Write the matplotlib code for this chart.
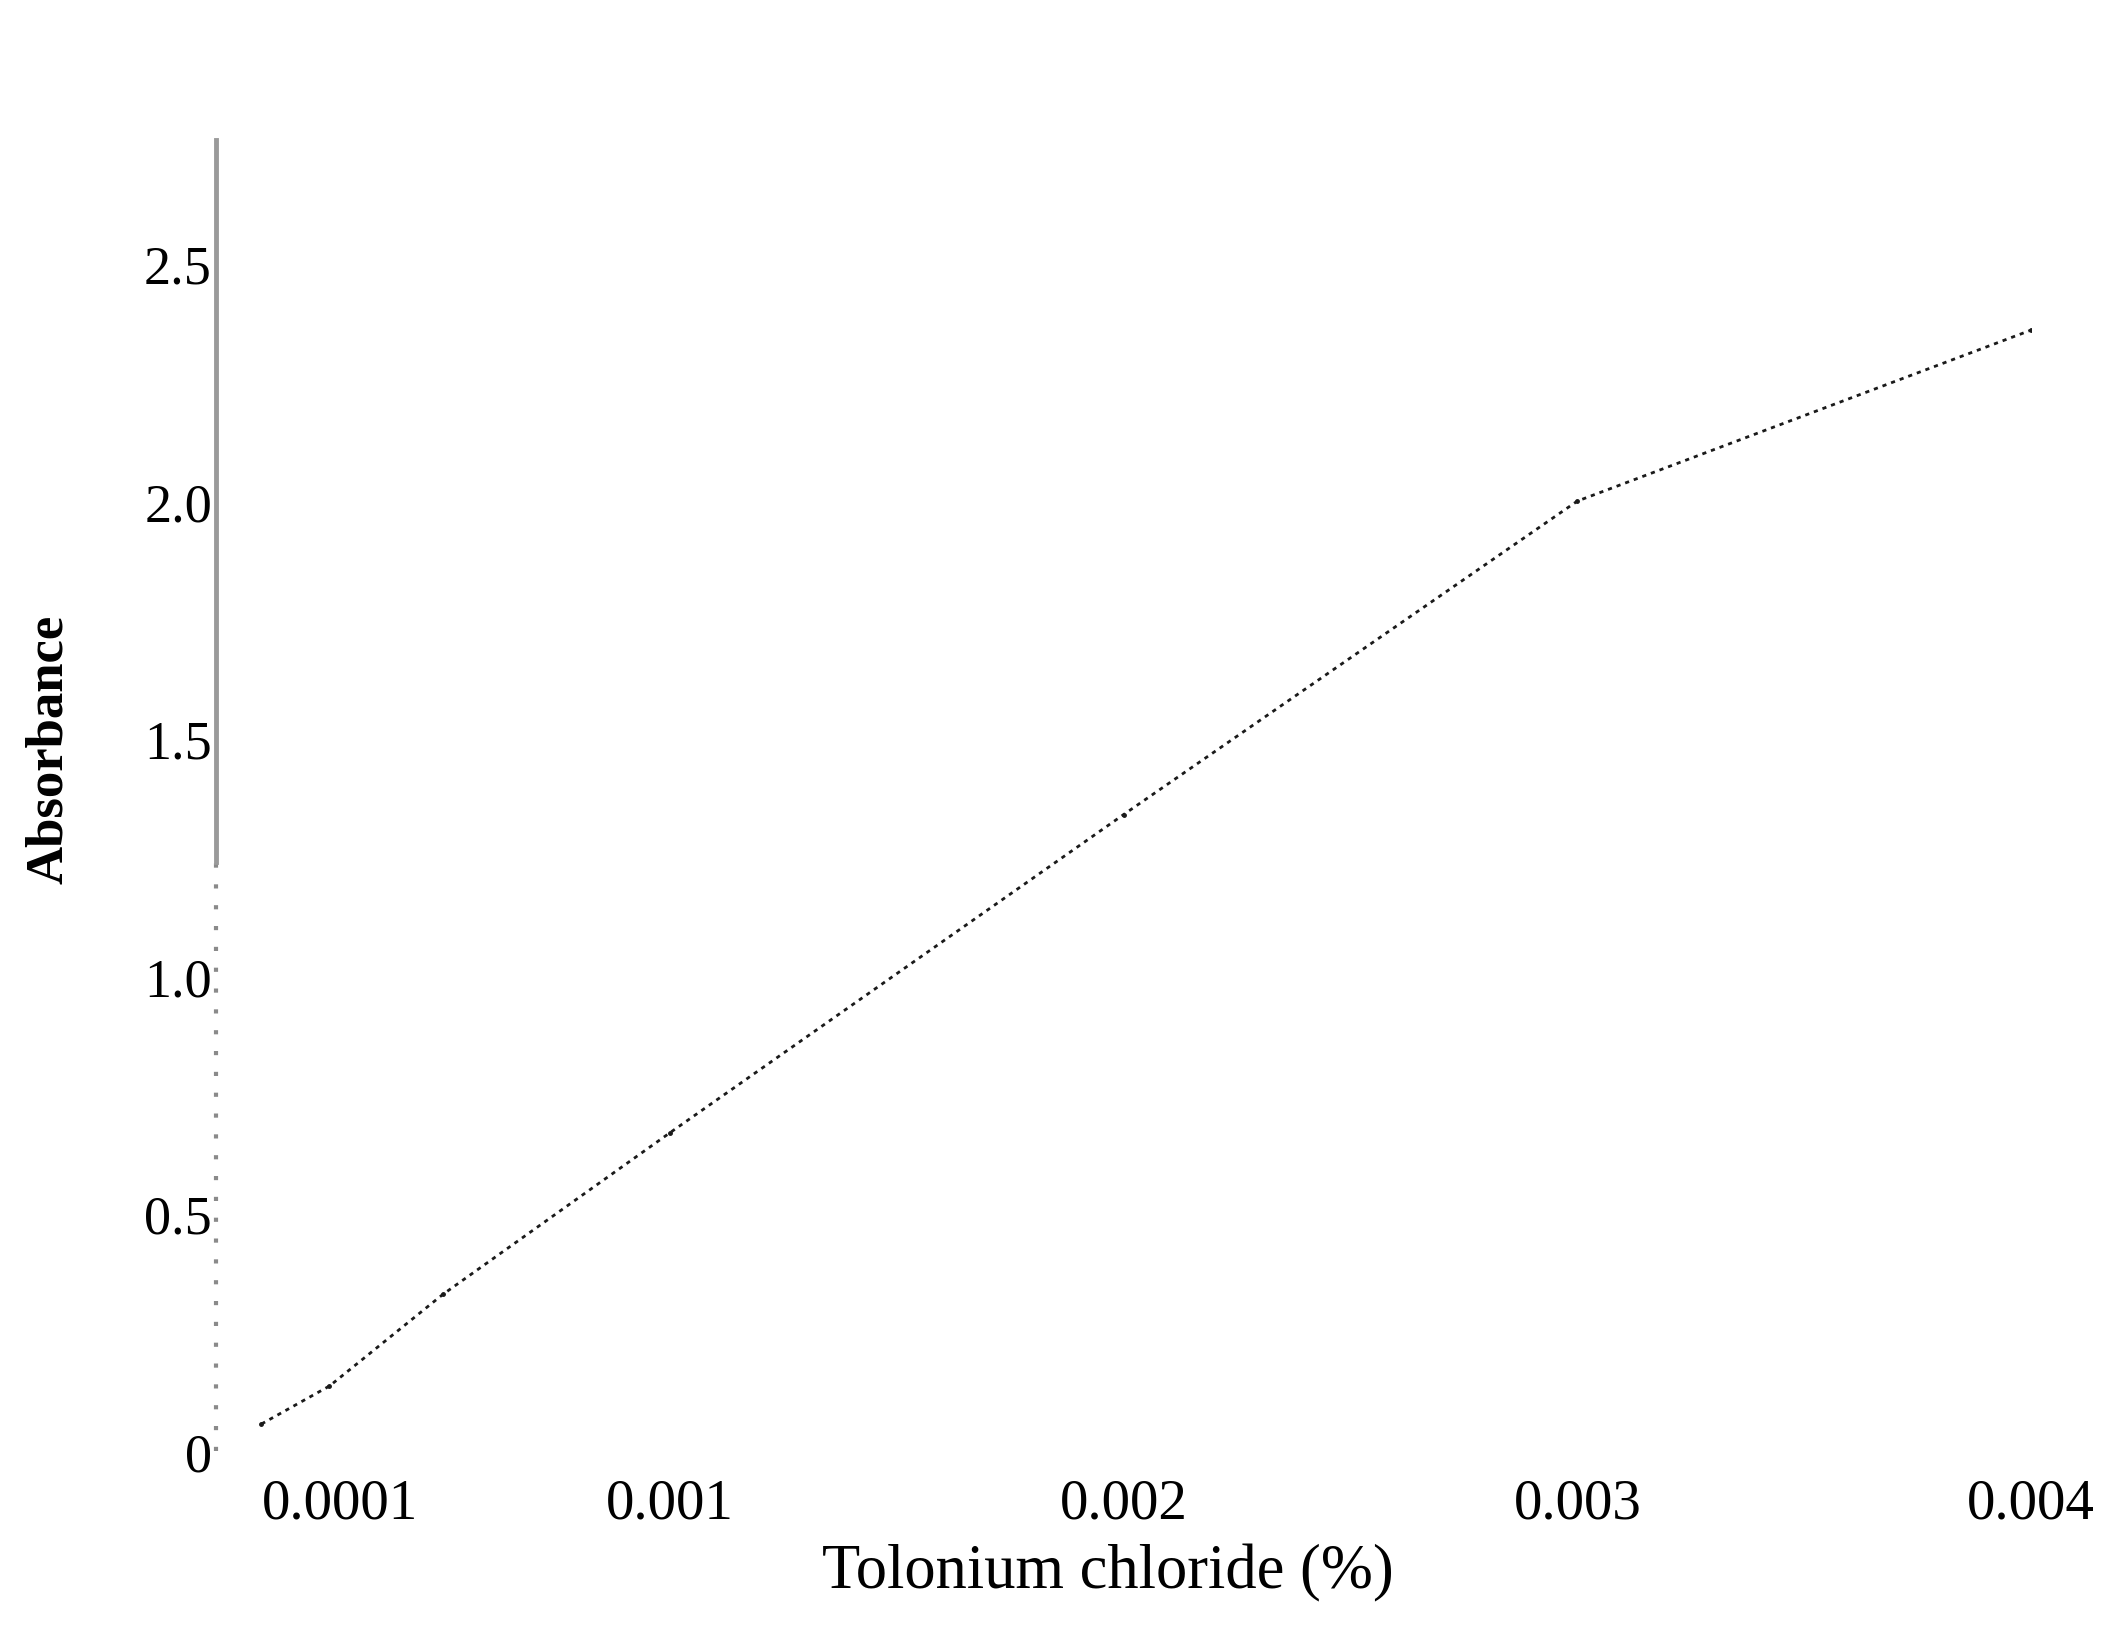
import matplotlib.pyplot as plt

# data
conc = [0.0001, 0.00025, 0.0005, 0.001, 0.002, 0.003, 0.004]
absorbance = [0.057, 0.137, 0.33, 0.67, 1.34, 2.0, 2.36]

xtick_pos = [0.0001, 0.001, 0.002, 0.003, 0.004]
xtick_labels = ['0.0001', '0.001', '0.002', '0.003', '0.004']
ytick_pos = [0, 0.5, 1.0, 1.5, 2.0, 2.5]
ytick_labels = ['0', '0.5', '1.0', '1.5', '2.0', '2.5']

plt.rcParams['font.family'] = ['Liberation Serif', 'DejaVu Serif']

fig = plt.figure(figsize=(21.12, 16.31), dpi=100)
ax = fig.add_axes([0.1023, 0.1097, 0.8594, 0.8038])

ax.plot(conc, absorbance, color='#1a1a1a', linestyle=(0, (1.5, 1.8)), linewidth=2.0,
        marker='.', markersize=5)

ax.set_xlim(0, 0.004)
ax.set_ylim(0, 2.76)

ax.set_xticks(xtick_pos)
ax.set_xticklabels(xtick_labels, fontsize=41)
ax.get_xticklabels()[0].set_horizontalalignment('left')
ax.set_yticks(ytick_pos)
ax.set_yticklabels(ytick_labels, fontsize=39)
ax.tick_params(axis='x', length=0, pad=19)
ax.tick_params(axis='y', length=0, pad=3)

for s in ['top', 'right', 'bottom']:
    ax.spines[s].set_visible(False)
# scanned axis: dense grey on top, sparse dots lower down
ax.spines['left'].set_bounds(1.24, 2.76)
ax.spines['left'].set_color('#9a9a9a')
ax.spines['left'].set_linewidth(3.5)
ax.plot([0, 0], [0, 1.24], color='#8a8a8a', linestyle=(0, (1, 4)), linewidth=3,
        clip_on=False)

ax.set_xlabel('Tolonium chloride (%)', fontsize=45)
ax.xaxis.set_label_coords(0.4915, -0.0705)
ax.set_ylabel('Absorbance', fontsize=38, fontweight='bold')
ax.yaxis.set_label_coords(-0.079, 0.536)

fig.savefig('out.png', dpi=100)
plt.close(fig)
